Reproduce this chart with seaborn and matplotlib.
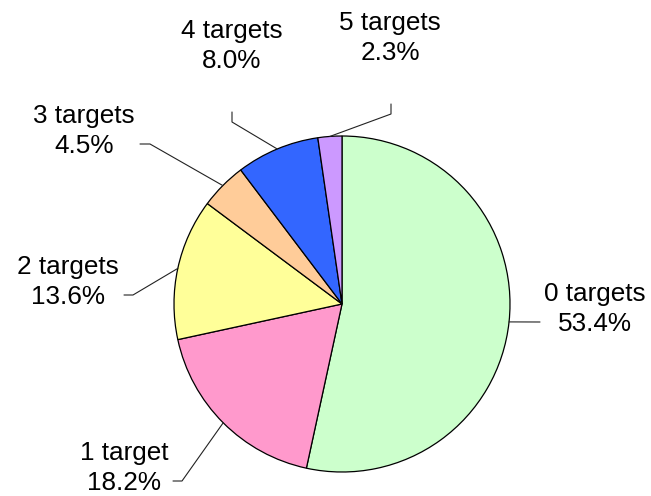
import numpy as np
import matplotlib
matplotlib.use("Agg")
import matplotlib.pyplot as plt
import seaborn as sns

sns.set_theme(style="white")
plt.rcParams["font.family"] = ["Liberation Sans", "DejaVu Sans"]

# Share of cases by number of targets
categories = ["0 targets", "1 target", "2 targets", "3 targets", "4 targets", "5 targets"]
shares = [53.4, 18.2, 13.6, 4.5, 8.0, 2.3]
colors = ["#CCFFCC", "#FF99CC", "#FFFF99", "#FFCC99", "#3366FF", "#CC99FF"]

W, H = 651, 496
center = (342, H - 304)
radius = 168

# label layout (pixel coords from top-left): text anchor, leader elbow, leader end
label_xy = [(595, 331), (124, 490), (68, 304), (84, 153), (232, 68), (390, 60)]
elbow_xy = [(540, 322), (182, 481), (133, 295), (150, 144), (232, 122), (391, 114)]
stub_xy = [(540, 322), (173, 481), (124, 295), (140, 144), (232, 112), (391, 104)]

fig = plt.figure(figsize=(W / 100, H / 100), dpi=100)
ax = fig.add_axes([0, 0, 1, 1])

wedges, _ = ax.pie(
    shares, colors=colors, startangle=90, counterclock=False,
    center=center, radius=radius,
    wedgeprops=dict(edgecolor="black", linewidth=0.9),
)
ax.set_xlim(0, W)
ax.set_ylim(0, H)
ax.set_aspect("equal")
ax.axis("off")

for w, cat, val, (lx, ly), (ex, ey), (sx, sy) in zip(
        wedges, categories, shares, label_xy, elbow_xy, stub_xy):
    mid = np.deg2rad((w.theta1 + w.theta2) / 2)
    px = center[0] + radius * np.cos(mid)
    py = center[1] + radius * np.sin(mid)
    ax.plot([px, ex, sx], [py, H - ey, H - sy], color="#222222", lw=0.8,
            solid_joinstyle="miter")
    ax.text(lx, H - ly, f"{cat}\n{val:.1f}%", ha="center", va="baseline",
            multialignment="center", fontsize=18.8, color="black",
            linespacing=1.32)

fig.savefig("out.png", dpi=100)
